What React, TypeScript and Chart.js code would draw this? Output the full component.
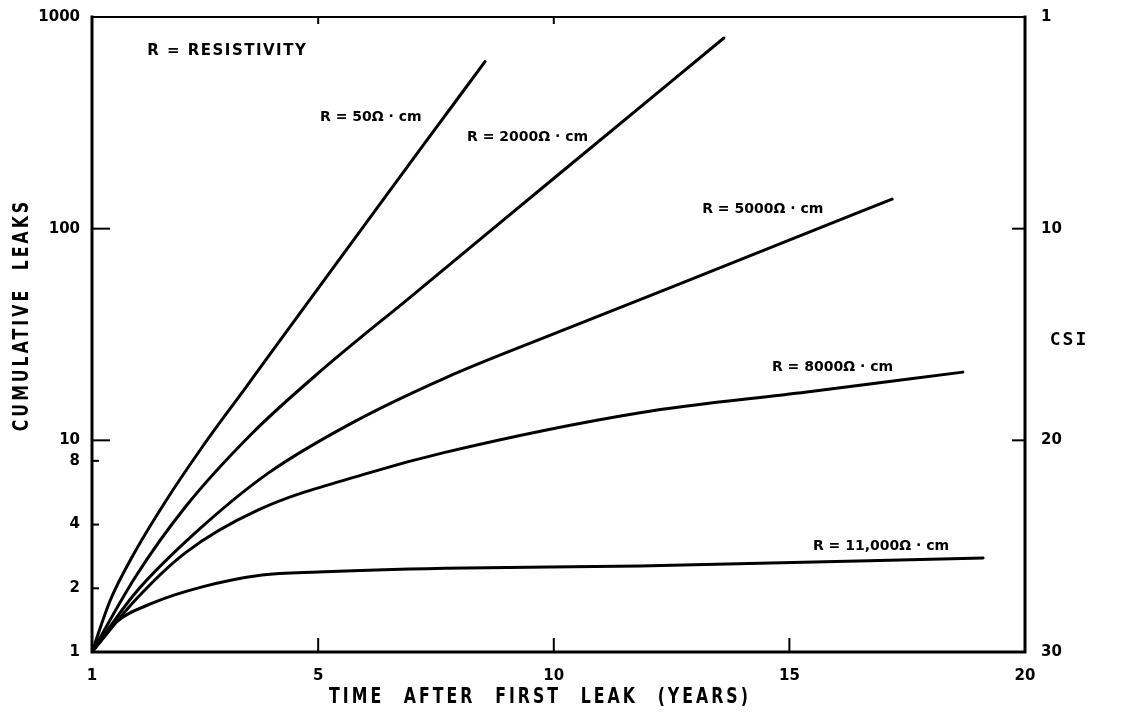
import React, { useEffect, useRef } from 'react';
import { Chart, registerables } from 'chart.js';

Chart.register(...registerables);

// ---------- axes ----------
const X_MIN = 0.2; // left edge of the time axis (labelled "1" on the original)
const X_MAX = 20;
const X_TICKS = [X_MIN, 5, 10, 15, 20];
const X_TICK_LABELS = ['1', '5', '10', '15', '20'];
const Y_TICKS = [1, 2, 4, 8, 10, 100, 1000];
const CSI_TICK_VALUES = [1000, 100, 10, 1];
const CSI_TICK_LABELS = ['1', '10', '20', '30'];

// ---------- series (time in years, cumulative leaks) ----------
const r50X = [0.2, 0.59, 1.05, 1.75, 2.54, 3.45, 4.3, 5.68, 7.23, 8.54];
const r50Y = [1, 1.76, 2.81, 5.1, 9.3, 17.6, 32, 84, 248, 615];

const r2000X = [0.2, 1.12, 2.18, 3.6, 5.08, 6.95, 9.92, 13.61];
const r2000Y = [1, 2.26, 4.84, 10.8, 21.5, 47.4, 167, 796];

const r5000X = [0.2, 1.12, 2.39, 3.94, 5.72, 7.69, 10.13, 12.5, 14.65, 17.18];
const r5000Y = [1, 1.9, 3.65, 7.0, 12.1, 19.7, 32.7, 53, 82.2, 138];

const r8000X = [0.2, 1.12, 2.18, 3.73, 6.06, 7.69, 11.83, 15.37, 18.68];
const r8000Y = [1, 1.76, 2.94, 4.69, 7.0, 8.77, 13.5, 16.9, 21.0];

const r11000X = [0.2, 0.69, 1.48, 2.54, 3.81, 5.0, 7.69, 11.83, 19.11];
const r11000Y = [1, 1.37, 1.7, 2.03, 2.31, 2.39, 2.49, 2.55, 2.78];

const SERIES = [
  { name: 'R = 50Ω·cm', x: r50X, y: r50Y },
  { name: 'R = 2000Ω·cm', x: r2000X, y: r2000Y },
  { name: 'R = 5000Ω·cm', x: r5000X, y: r5000Y },
  { name: 'R = 8000Ω·cm', x: r8000X, y: r8000Y },
  { name: 'R = 11,000Ω·cm', x: r11000X, y: r11000Y },
];

// ---------- annotations (anchored in data coordinates) ----------
const NOTE_TEXT = ['R = 50Ω · cm', 'R = 2000Ω · cm', 'R = 5000Ω · cm', 'R = 8000Ω · cm', 'R = 11,000Ω · cm'];
const NOTE_X = [5.04, 8.16, 13.15, 14.63, 15.5];
const NOTE_Y = [337, 271, 124, 22.2, 3.17];
const LEGEND_NOTE = 'R = RESISTIVITY';
const LEGEND_NOTE_X = 1.37;
const LEGEND_NOTE_Y = 691;

const X_TITLE = 'TIME AFTER FIRST LEAK (YEARS)';
const Y_TITLE = 'CUMULATIVE LEAKS';
const Y2_TITLE = 'CSI';

const decorPlugin = {
  id: 'decor',
  afterDatasetsDraw(chart: any) {
    const { ctx, chartArea: a, scales } = chart;
    const xs = scales.x;
    const ys = scales.y;
    ctx.save();
    ctx.strokeStyle = '#000';
    ctx.fillStyle = '#000';
    ctx.lineCap = 'square';

    // frame
    ctx.lineWidth = 3;
    ctx.beginPath();
    ctx.moveTo(a.left, a.top);
    ctx.lineTo(a.left, a.bottom);
    ctx.lineTo(a.right, a.bottom);
    ctx.lineTo(a.right, a.top);
    ctx.stroke();
    ctx.lineWidth = 2;
    ctx.beginPath();
    ctx.moveTo(a.left, a.top);
    ctx.lineTo(a.right, a.top);
    ctx.stroke();

    // inward tick marks
    ctx.lineWidth = 2;
    ctx.lineCap = 'butt';
    const seg = (x1: number, y1: number, x2: number, y2: number) => {
      ctx.beginPath();
      ctx.moveTo(x1, y1);
      ctx.lineTo(x2, y2);
      ctx.stroke();
    };
    [5, 10, 15].forEach((v) => {
      const px = xs.getPixelForValue(v);
      seg(px, a.bottom, px, a.bottom - 14);
    });
    [5, 10].forEach((v) => {
      const px = xs.getPixelForValue(v);
      seg(px, a.top, px, a.top + 7);
    });
    [100, 10].forEach((v) => {
      const py = ys.getPixelForValue(v);
      seg(a.left, py, a.left + 18, py);
      seg(a.right, py, a.right - 13, py);
    });
    [8, 4, 2].forEach((v) => {
      const py = ys.getPixelForValue(v);
      seg(a.left, py, a.left + 7, py);
    });

    // curve notes
    ctx.textAlign = 'left';
    ctx.textBaseline = 'middle';
    ctx.font = 'bold 14px "DejaVu Sans"';
    NOTE_TEXT.forEach((t, i) => {
      ctx.fillText(t, xs.getPixelForValue(NOTE_X[i]), ys.getPixelForValue(NOTE_Y[i]));
    });
    ctx.font = 'bold 15px "DejaVu Sans"';
    (ctx as any).letterSpacing = '1.5px';
    ctx.fillText(LEGEND_NOTE, xs.getPixelForValue(LEGEND_NOTE_X), ys.getPixelForValue(LEGEND_NOTE_Y));

    // axis titles
    ctx.textAlign = 'center';
    ctx.font = 'bold 21px "DejaVu Sans"';
    (ctx as any).letterSpacing = '4px';
    (ctx as any).wordSpacing = '15px';
    ctx.save();
    ctx.translate(540, 698);
    ctx.scale(0.75, 1);
    ctx.fillText(X_TITLE, 0, 0);
    ctx.restore();

    (ctx as any).wordSpacing = '12px';
    ctx.save();
    ctx.translate(23, 315);
    ctx.rotate(-Math.PI / 2);
    ctx.scale(0.75, 1);
    ctx.fillText(Y_TITLE, 0, 0);
    ctx.restore();

    (ctx as any).wordSpacing = '0px';
    (ctx as any).letterSpacing = '2px';
    ctx.font = 'bold 18px "DejaVu Sans Mono"';
    ctx.fillText(Y2_TITLE, 1069, 340);

    ctx.restore();
  },
};

const tickFont = { family: 'DejaVu Sans', size: 15, weight: 'bold' as const };

export default function App() {
  const canvasRef = useRef<HTMLCanvasElement | null>(null);

  useEffect(() => {
    if (!canvasRef.current) return;
    const chart = new Chart(canvasRef.current, {
      type: 'line',
      data: {
        datasets: SERIES.map((s) => ({
          label: s.name,
          data: s.x.map((x, i) => ({ x, y: s.y[i] })),
          borderColor: '#000',
          backgroundColor: '#000',
          borderWidth: 3,
          pointRadius: 0,
          fill: false,
          cubicInterpolationMode: 'monotone' as const,
          borderCapStyle: 'round' as const,
        })),
      },
      options: {
        animation: false,
        responsive: false,
        layout: { padding: { top: 17, left: 0, right: 0, bottom: 0 } },
        plugins: {
          legend: { display: false },
          tooltip: { enabled: false },
        },
        scales: {
          x: {
            type: 'linear',
            position: 'bottom',
            min: X_MIN,
            max: X_MAX,
            grid: { display: false },
            border: { display: false },
            afterBuildTicks: (s: any) => {
              s.ticks = X_TICKS.map((v) => ({ value: v }));
            },
            afterFit: (s: any) => {
              s.height = 65;
            },
            ticks: {
              autoSkip: false,
              maxRotation: 0,
              padding: 7,
              color: '#000',
              font: tickFont,
              callback: (v: any) => {
                const i = X_TICKS.indexOf(Number(v));
                return i >= 0 ? X_TICK_LABELS[i] : '';
              },
            },
          },
          y: {
            type: 'logarithmic',
            position: 'left',
            min: 1,
            max: 1000,
            grid: { display: false },
            border: { display: false },
            afterBuildTicks: (s: any) => {
              s.ticks = Y_TICKS.map((v) => ({ value: v }));
            },
            afterFit: (s: any) => {
              s.width = 92;
            },
            ticks: {
              autoSkip: false,
              padding: 4,
              color: '#000',
              font: tickFont,
              callback: (v: any) => String(v),
            },
          },
          y2: {
            type: 'logarithmic',
            position: 'right',
            min: 1,
            max: 1000,
            grid: { display: false },
            border: { display: false },
            afterBuildTicks: (s: any) => {
              s.ticks = CSI_TICK_VALUES.map((v) => ({ value: v }));
            },
            afterFit: (s: any) => {
              s.width = 96;
            },
            ticks: {
              autoSkip: false,
              padding: 8,
              color: '#000',
              font: tickFont,
              callback: (v: any) => {
                const i = CSI_TICK_VALUES.indexOf(Number(v));
                return i >= 0 ? CSI_TICK_LABELS[i] : '';
              },
            },
          },
        },
      },
      plugins: [decorPlugin],
    } as any);
    return () => chart.destroy();
  }, []);

  return (
    <div style={{ position: 'absolute', left: 0, top: 0, width: 1121, height: 717, background: '#fff' }}>
      <canvas ref={canvasRef} width={1121} height={717} style={{ display: 'block' }} />
    </div>
  );
}
